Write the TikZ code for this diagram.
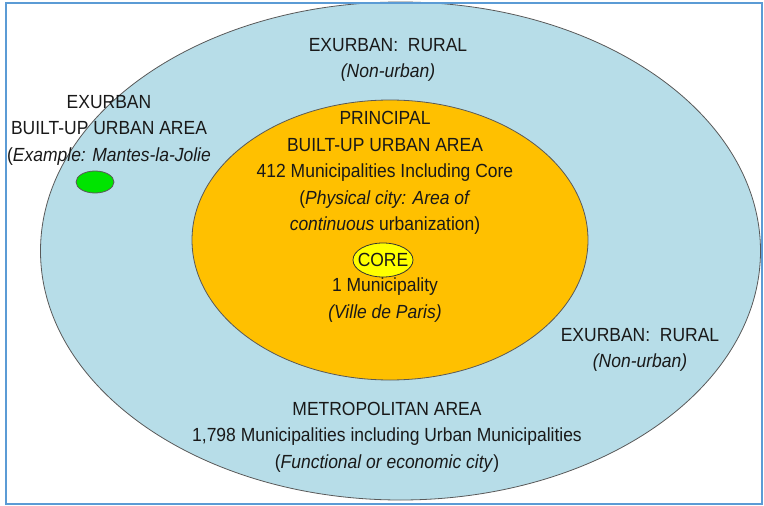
\documentclass[tikz,border=0pt]{standalone}
\usepackage{fontspec}
\setmainfont[FakeStretch=0.92]{Liberation Sans}
\usetikzlibrary{
  shapes.geometric,
  }

\definecolor{metroblue}{HTML}{B7DDE8}
\definecolor{builtorange}{HTML}{FFC000}
\definecolor{coreyellow}{HTML}{FFFF00}
\definecolor{exgreen}{HTML}{00E400}
\definecolor{frameblue}{HTML}{5B9BD5}

\begin{document}
\begin{tikzpicture}
                [x=1pt, y=-1pt,
                 every node/.style={font=\fontsize{19}{26.5}\selectfont, text=black!90, align=center, inner sep=0pt},
                 area/.style={ellipse, draw=black!65, line width=0.8pt}]
                \useasboundingbox (0,0) rectangle (764,506);
                
                % zones, outside in
                \node[area, fill=metroblue, minimum width=720, minimum height=498] (metro) at (400.5,251) {};
                \node[area, fill=builtorange, minimum width=396, minimum height=280] (principal) at (390,240) {};
                \node[area, fill=exgreen, minimum width=38, minimum height=22] (mantes) at (95,182) {};
                \node[area, fill=coreyellow, draw=black!80, minimum width=60, minimum height=34, inner sep=-7pt] (core) at (383,260) {CORE};
                
                % labels
                \node (ruraltop) at (388,60) {EXURBAN:\ \ RURAL\\\textit{(Non-urban)}};
                \node (exurban) at (109,130) {EXURBAN\\BUILT-UP URBAN AREA\\(\textit{Example: Mantes-la-Jolie}};
                \node (builtup) at (385,173) {PRINCIPAL\\BUILT-UP URBAN AREA\\412 Municipalities Including Core\\(\textit{Physical city: Area of}\\\textit{continuous} urbanization)};
                \node (paris) at (385,300) {1 Municipality\\\textit{(Ville de Paris)}};
                \node (ruralright) at (640,350) {EXURBAN:\ \ RURAL\\\textit{(Non-urban)}};
                \node (metrotext) at (387,437) {METROPOLITAN AREA\\1,798 Municipalities including Urban Municipalities\\(\textit{Functional or economic city})};
                
                \draw[frameblue, line width=1.5pt] (6,3) rectangle (762,504);
                
            \end{tikzpicture}
\end{document}
